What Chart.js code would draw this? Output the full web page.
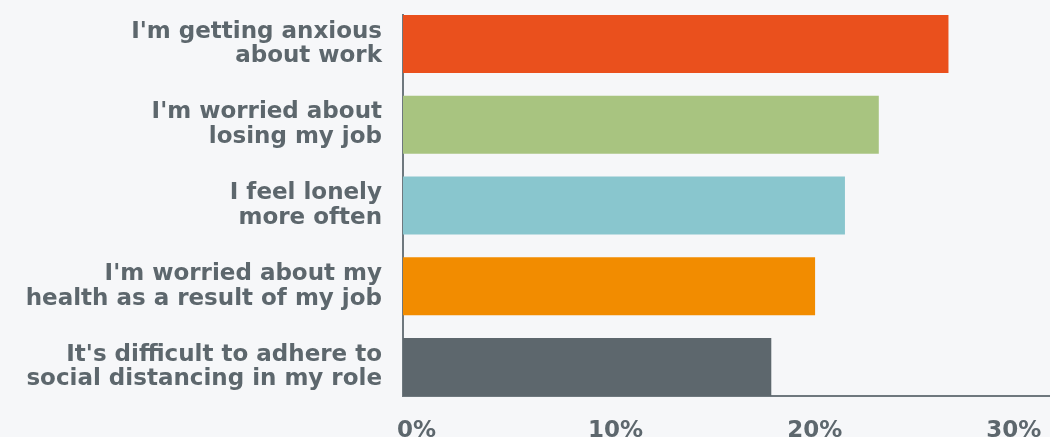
<!DOCTYPE html>
<html>
<head>
<meta charset="utf-8">
<script src="https://cdn.jsdelivr.net/npm/chart.js@4.4.1/dist/chart.umd.min.js"></script>
<style>
  html, body { margin: 0; padding: 0; background: #F6F7F9; overflow: hidden; }
  #wrap { position: relative; width: 1050px; height: 437px; }
</style>
</head>
<body>
<div id="wrap"><canvas id="c"></canvas></div>
<script>
// ---- data ----
const categories = [
  ["I'm getting anxious", "about work"],
  ["I'm worried about", "losing my job"],
  ["I feel lonely", "more often"],
  ["I'm worried about my", "health as a result of my job"],
  ["It's difficult to adhere to", "social distancing in my role"]
];
const values = [27.4, 23.9, 22.2, 20.7, 18.5];
const xTicks = [0, 10, 20, 30];
const barColors = ["#EA501D", "#A8C480", "#89C6CE", "#F28C00", "#5D676D"];

const textColor = "#5D676D";
const axisColor = "#6E787E";
const family = "'DejaVu Sans', sans-serif";

new Chart(document.getElementById("c"), {
  type: "bar",
  data: {
    datasets: [{
      data: values.map((v, i) => ({ x: v, y: i })),
      backgroundColor: barColors,
      borderWidth: 0,
      barPercentage: 0.718,
      categoryPercentage: 1
    }]
  },
  options: {
    indexAxis: "y",
    responsive: true,
    maintainAspectRatio: false,
    animation: false,
    layout: { padding: { top: 15, right: 0, left: 0, bottom: 0 } },
    plugins: { legend: { display: false }, tooltip: { enabled: false } },
    scales: {
      y: {
        type: "linear",
        bounds: "data",
        offset: false,
        reverse: true,
        min: -0.359,
        max: categories.length - 1 + 0.359,
        grid: { display: false, offset: false },
        border: { display: true, color: axisColor, width: 2 },
        afterBuildTicks: s => { s.ticks = categories.map((_, i) => ({ value: i })); },
        afterFit: s => { s.width = 403; s.paddingTop = 0; s.paddingBottom = 0; },
        ticks: {
          color: textColor,
          font: { family: family, size: 23, weight: "bold", lineHeight: 1.07 },
          padding: 13,
          callback: v => categories[v]
        }
      },
      x: {
        type: "linear",
        bounds: "data",
        min: 0,
        max: 32.5,
        grid: { display: false },
        border: { display: true, color: axisColor, width: 2 },
        afterBuildTicks: s => { s.ticks = xTicks.map(v => ({ value: v })); },
        afterFit: s => { s.height = 41; s.paddingLeft = 0; s.paddingRight = 0; },
        ticks: {
          color: textColor,
          font: { family: family, size: 23, weight: "bold" },
          padding: 13,
          labelOffset: 13.5,
          maxRotation: 0,
          autoSkip: false,
          callback: v => v + "%"
        }
      }
    }
  }
});
</script>
</body>
</html>
